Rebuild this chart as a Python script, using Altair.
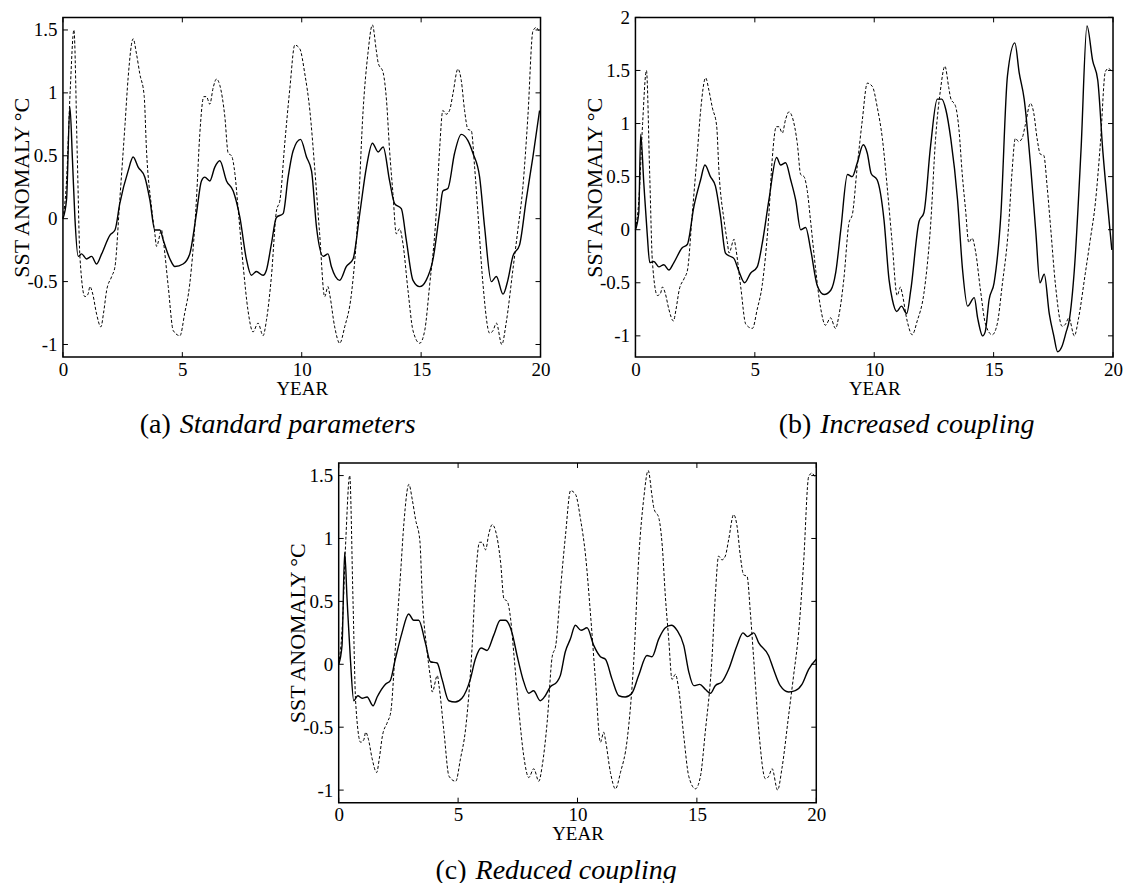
import altair as alt
import pandas as pd

FONT = "Liberation Serif"
W, H = 478, 340

# ---------------- data ----------------
dash_year = [0.00, 0.15, 0.30, 0.46, 0.60, 0.71, 0.92, 1.05, 1.13, 1.25, 1.40, 1.59, 1.70, 1.83,
             2.04, 2.18, 2.38, 2.60, 2.73, 2.94, 3.08, 3.22, 3.40, 3.50, 3.71, 3.85, 3.92, 4.13,
             4.20, 4.41, 4.62, 4.90, 5.10, 5.31, 5.59, 5.73, 5.90, 6.01, 6.15, 6.29, 6.43, 6.57,
             6.78, 6.92, 7.06, 7.20, 7.34, 7.55, 7.75, 7.96, 8.17, 8.38, 8.52, 8.73, 8.94, 9.09,
             9.29, 9.50, 9.71, 9.92, 10.13, 10.34, 10.54, 10.75, 10.96, 11.10, 11.17, 11.38,
             11.59, 11.80, 12.08, 12.36, 12.57, 12.77, 12.96, 13.12, 13.20, 13.41, 13.55, 13.68,
             13.82, 13.96, 14.10, 14.24, 14.45, 14.66, 14.94, 15.15, 15.35, 15.63, 15.77, 15.91,
             16.05, 16.19, 16.33, 16.54, 16.68, 16.82, 16.96, 17.10, 17.24, 17.38, 17.59, 17.87,
             18.01, 18.15, 18.38, 18.56, 18.84, 19.05, 19.26, 19.47, 19.68, 19.82, 19.96, 20.00]
dash_sst = [0.00, 0.30, 1.00, 1.50, 0.50, -0.30, -0.62, -0.60, -0.54, -0.60, -0.75, -0.86, -0.75, -0.57,
            -0.46, -0.38, 0.15, 0.75, 1.12, 1.43, 1.31, 1.15, 0.98, 0.54, 0.09, -0.12, -0.22, -0.09,
            -0.17, -0.54, -0.89, -0.93, -0.75, -0.52, 0.15, 0.67, 0.97, 0.97, 0.91, 1.04, 1.11, 1.06,
            0.81, 0.52, 0.50, 0.36, 0.07, -0.38, -0.73, -0.90, -0.83, -0.93, -0.81, -0.46, 0.06, 0.15,
            0.60, 1.03, 1.38, 1.35, 1.15, 0.86, 0.41, -0.12, -0.62, -0.54, -0.60, -0.86,
            -0.99, -0.86, -0.60, 0.04, 0.86, 1.31, 1.54, 1.34, 1.24, 1.16, 0.94, 0.54,
            0.20, -0.12, -0.08, -0.20, -0.57, -0.89, -0.99, -0.89, -0.54, 0.04, 0.54, 0.86,
            0.83, 0.86, 0.99, 1.19, 1.10, 0.86, 0.71, 0.70, 0.41, 0.04, -0.52, -0.91,
            -0.89, -0.83, -1.00, -0.83, -0.41, -0.09, 0.25, 0.81, 1.49, 1.52, 1.49, 1.50]

std_year = [0.00, 0.15, 0.29, 0.40, 0.50, 0.64, 0.78, 0.99, 1.20, 1.41, 1.62, 1.97, 2.18, 2.38, 2.73,
            2.94, 3.15, 3.43, 3.64, 3.85, 4.06, 4.20, 4.48, 4.69, 5.03, 5.31, 5.59, 5.80, 5.94,
            6.15, 6.36, 6.57, 6.85, 7.13, 7.41, 7.68, 7.89, 8.10, 8.38, 8.52, 8.73, 8.94, 9.22,
            9.43, 9.64, 9.95, 10.20, 10.41, 10.62, 10.90, 11.10, 11.24, 11.59, 11.87, 12.15,
            12.43, 12.71, 12.96, 13.20, 13.41, 13.68, 13.89, 14.17, 14.38, 14.66, 14.94, 15.21,
            15.49, 15.77, 15.91, 16.12, 16.40, 16.68, 16.96, 17.17, 17.45, 17.66, 17.94, 18.15,
            18.43, 18.63, 18.84, 19.12, 19.40, 19.68, 19.96]
std_sst = [0.00, 0.15, 0.89, 0.46, 0.01, -0.30, -0.28, -0.32, -0.30, -0.36, -0.28, -0.13, -0.09, 0.12, 0.38,
           0.49, 0.41, 0.33, 0.15, -0.09, -0.09, -0.17, -0.32, -0.38, -0.36, -0.28, 0.04, 0.30, 0.33,
           0.30, 0.41, 0.46, 0.30, 0.22, 0.01, -0.32, -0.45, -0.42, -0.45, -0.41, -0.20, 0.01, 0.04,
           0.33, 0.54, 0.63, 0.49, 0.38, -0.07, -0.30, -0.28, -0.38, -0.49, -0.38, -0.32,
           0.04, 0.41, 0.60, 0.53, 0.57, 0.30, 0.12, 0.08, -0.17, -0.49, -0.54, -0.49,
           -0.33, 0.04, 0.22, 0.24, 0.52, 0.67, 0.62, 0.52, 0.33, -0.07, -0.50, -0.46,
           -0.60, -0.49, -0.30, -0.21, 0.15, 0.49, 0.86]

inc_year = [0.00, 0.14, 0.22, 0.35, 0.49, 0.60, 0.77, 0.98, 1.19, 1.40, 1.61, 1.96, 2.17, 2.45, 2.73,
            2.91, 3.14, 3.35, 3.56, 3.77, 3.96, 4.12, 4.33, 4.57, 4.82, 5.10, 5.31, 5.59, 5.91,
            6.08, 6.29, 6.50, 6.71, 6.92, 7.13, 7.34, 7.62, 7.90, 8.18, 8.39, 8.60, 8.88, 9.08,
            9.29, 9.54, 9.71, 9.87, 10.12, 10.41, 10.62, 10.76, 10.94, 11.14, 11.36, 11.53,
            11.88, 12.08, 12.36, 12.64, 12.83, 13.00, 13.21, 13.49, 13.70, 13.91, 14.19, 14.33,
            14.54, 14.65, 14.81, 15.02, 15.30, 15.58, 15.89, 16.07, 16.28, 16.56, 16.77, 16.94,
            17.12, 17.33, 17.52, 17.68, 17.86, 18.03, 18.17, 18.38, 18.66, 18.91, 19.15, 19.36,
            19.57, 19.78, 19.95]
inc_sst = [0.00, 0.16, 0.90, 0.44, -0.03, -0.31, -0.30, -0.35, -0.33, -0.38, -0.31, -0.17, -0.14, 0.22, 0.47,
           0.61, 0.50, 0.41, 0.13, -0.22, -0.25, -0.27, -0.39, -0.50, -0.41, -0.35, -0.13, 0.28, 0.68,
           0.61, 0.63, 0.47, 0.28, 0.00, 0.02, -0.19, -0.53, -0.61, -0.57, -0.40, 0.00, 0.52, 0.50,
           0.63, 0.80, 0.72, 0.53, 0.47, 0.09, -0.47, -0.66, -0.77, -0.72, -0.79, -0.57,
           0.08, 0.16, 0.79, 1.23, 1.23, 1.13, 0.85, 0.28, -0.38, -0.72, -0.64, -0.83,
           -1.00, -0.96, -0.66, -0.50, 0.13, 1.45, 1.76, 1.48, 1.23, 0.57, -0.03, -0.50,
           -0.42, -0.79, -1.00, -1.15, -1.10, -0.97, -0.85, -0.38, 0.75, 1.92, 1.59, 1.41,
           0.75, 0.22, -0.19]

red_year = [0.00, 0.14, 0.25, 0.35, 0.49, 0.63, 0.80, 0.98, 1.19, 1.44, 1.61, 1.95, 2.16, 2.37, 2.65,
            2.93, 3.14, 3.35, 3.63, 3.84, 4.12, 4.33, 4.61, 4.88, 5.16, 5.51, 5.72, 5.96, 6.21,
            6.49, 6.77, 6.98, 7.26, 7.47, 7.75, 7.96, 8.16, 8.44, 8.65, 8.86, 9.14, 9.28, 9.49,
            9.70, 9.91, 10.15, 10.40, 10.68, 10.96, 11.17, 11.45, 11.73, 12.00, 12.28, 12.56,
            12.91, 13.12, 13.40, 13.68, 13.93, 14.17, 14.45, 14.66, 14.87, 15.12, 15.36, 15.57,
            15.77, 16.05, 16.33, 16.68, 16.93, 17.12, 17.38, 17.59, 18.00, 18.21, 18.49, 18.84,
            19.12, 19.40, 19.68, 20.00]
red_sst = [0.00, 0.15, 0.89, 0.52, 0.04, -0.29, -0.25, -0.27, -0.26, -0.33, -0.26, -0.16, -0.13, 0.04, 0.25,
           0.40, 0.35, 0.35, 0.17, 0.02, 0.01, -0.12, -0.29, -0.30, -0.27, -0.12, 0.04, 0.13, 0.11,
           0.23, 0.35, 0.35, 0.25, 0.07, -0.14, -0.23, -0.21, -0.29, -0.25, -0.18, -0.14, -0.09, 0.10,
           0.20, 0.31, 0.27, 0.29, 0.15, 0.06, 0.04, -0.12, -0.25, -0.26, -0.23, -0.09,
           0.07, 0.06, 0.20, 0.29, 0.31, 0.27, 0.15, -0.06, -0.17, -0.16, -0.20, -0.23,
           -0.17, -0.14, -0.04, 0.15, 0.25, 0.22, 0.25, 0.17, 0.07, -0.04, -0.17, -0.22,
           -0.21, -0.16, -0.04, 0.04]

x_ticks = [0, 5, 10, 15, 20]
y_ticks_std = [-1, -0.5, 0, 0.5, 1, 1.5]
y_ticks_inc = [-1, -0.5, 0, 0.5, 1, 1.5, 2]

captions = {
    "a": ("(a)", "Standard parameters"),
    "b": ("(b)", "Increased coupling"),
    "c": ("(c)", "Reduced coupling"),
}


def panel(sol_year, sol_sst, ydom, yticks, key, cap_x):
    xs = alt.Scale(domain=[0, 20], nice=False, zero=False)
    ys = alt.Scale(domain=ydom, nice=False, zero=False)
    xax = alt.Axis(values=x_ticks, ticks=False, grid=False, domain=False,
                   labelFont=FONT, labelFontSize=19, labelColor="black", labelPadding=3,
                   labelExpr="'' + datum.value", labelFlush=False,
                   title="YEAR", titleFont=FONT, titleFontSize=19, titleFontWeight="normal",
                   titleColor="black", titlePadding=0)
    yax = alt.Axis(values=yticks, ticks=False, grid=False, domain=False,
                   labelFont=FONT, labelFontSize=19, labelColor="black", labelPadding=6,
                   labelExpr="'' + datum.value", labelFlush=False,
                   minExtent=29, maxExtent=29,
                   title="SST ANOMALY °C", titleFont=FONT, titleFontSize=22,
                   titleFontWeight="normal", titleColor="black", titlePadding=0)
    X = alt.X("year:Q", scale=xs, axis=xax)
    Y = alt.Y("sst:Q", scale=ys, axis=yax)

    d_dash = pd.DataFrame({"year": dash_year, "sst": dash_sst})
    d_sol = pd.DataFrame({"year": sol_year, "sst": sol_sst})
    dash = alt.Chart(d_dash).mark_line(color="black", strokeWidth=1, strokeDash=[3, 2],
                                       interpolate="monotone").encode(x=X, y=Y)
    sol = alt.Chart(d_sol).mark_line(color="black", strokeWidth=1.4,
                                     interpolate="monotone").encode(x=X, y=Y)

    dx = pd.DataFrame({"year": x_ticks})
    dy = pd.DataFrame({"sst": yticks})
    tb = alt.Chart(dx).mark_rule(color="black", strokeWidth=1).encode(
        x=X, y=alt.value(H), y2=alt.value(H - 5))
    tt = alt.Chart(dx).mark_rule(color="black", strokeWidth=1).encode(
        x=X, y=alt.value(0), y2=alt.value(5))
    tl = alt.Chart(dy).mark_rule(color="black", strokeWidth=1).encode(
        y=Y, x=alt.value(0), x2=alt.value(5))
    tr = alt.Chart(dy).mark_rule(color="black", strokeWidth=1).encode(
        y=Y, x=alt.value(W - 5), x2=alt.value(W))

    letter, text = captions[key]
    dc = pd.DataFrame({"letter": [letter], "text": [text]})
    c1 = alt.Chart(dc).mark_text(font=FONT, fontSize=28, align="right", baseline="middle",
                                 color="black").encode(
        text="letter:N", x=alt.value(cap_x), y=alt.value(H + 68))
    c2 = alt.Chart(dc).mark_text(font=FONT, fontSize=28, fontStyle="italic", align="left",
                                 baseline="middle", color="black").encode(
        text="text:N", x=alt.value(cap_x + 9), y=alt.value(H + 68))
    return alt.layer(dash, sol, tb, tt, tl, tr, c1, c2).properties(
        width=W, height=H, view=alt.ViewBackground(stroke="black", strokeWidth=1.5))


pa = panel(std_year, std_sst, [-1.1, 1.6], y_ticks_std, "a", 108)
pb = panel(inc_year, inc_sst, [-1.2, 2.0], y_ticks_inc, "b", 176)
pc = panel(red_year, red_sst, [-1.1, 1.6], y_ticks_std, "c", 128)

spacer = alt.Chart(pd.DataFrame({"v": [0]})).mark_point(opacity=0).encode(
    x=alt.value(0), y=alt.value(0)).properties(width=223, height=10,
                                               view=alt.ViewBackground(strokeOpacity=0))

top = alt.hconcat(pa, pb, spacing=31)
bottom = alt.hconcat(spacer, pc, spacing=0)
chart = alt.vconcat(top, bottom, spacing=20).properties(
    padding={"left": 10, "top": 7, "right": 5, "bottom": 0},
    background="white",
)

chart.save("out.html", embed_options={"renderer": "svg", "actions": False})
